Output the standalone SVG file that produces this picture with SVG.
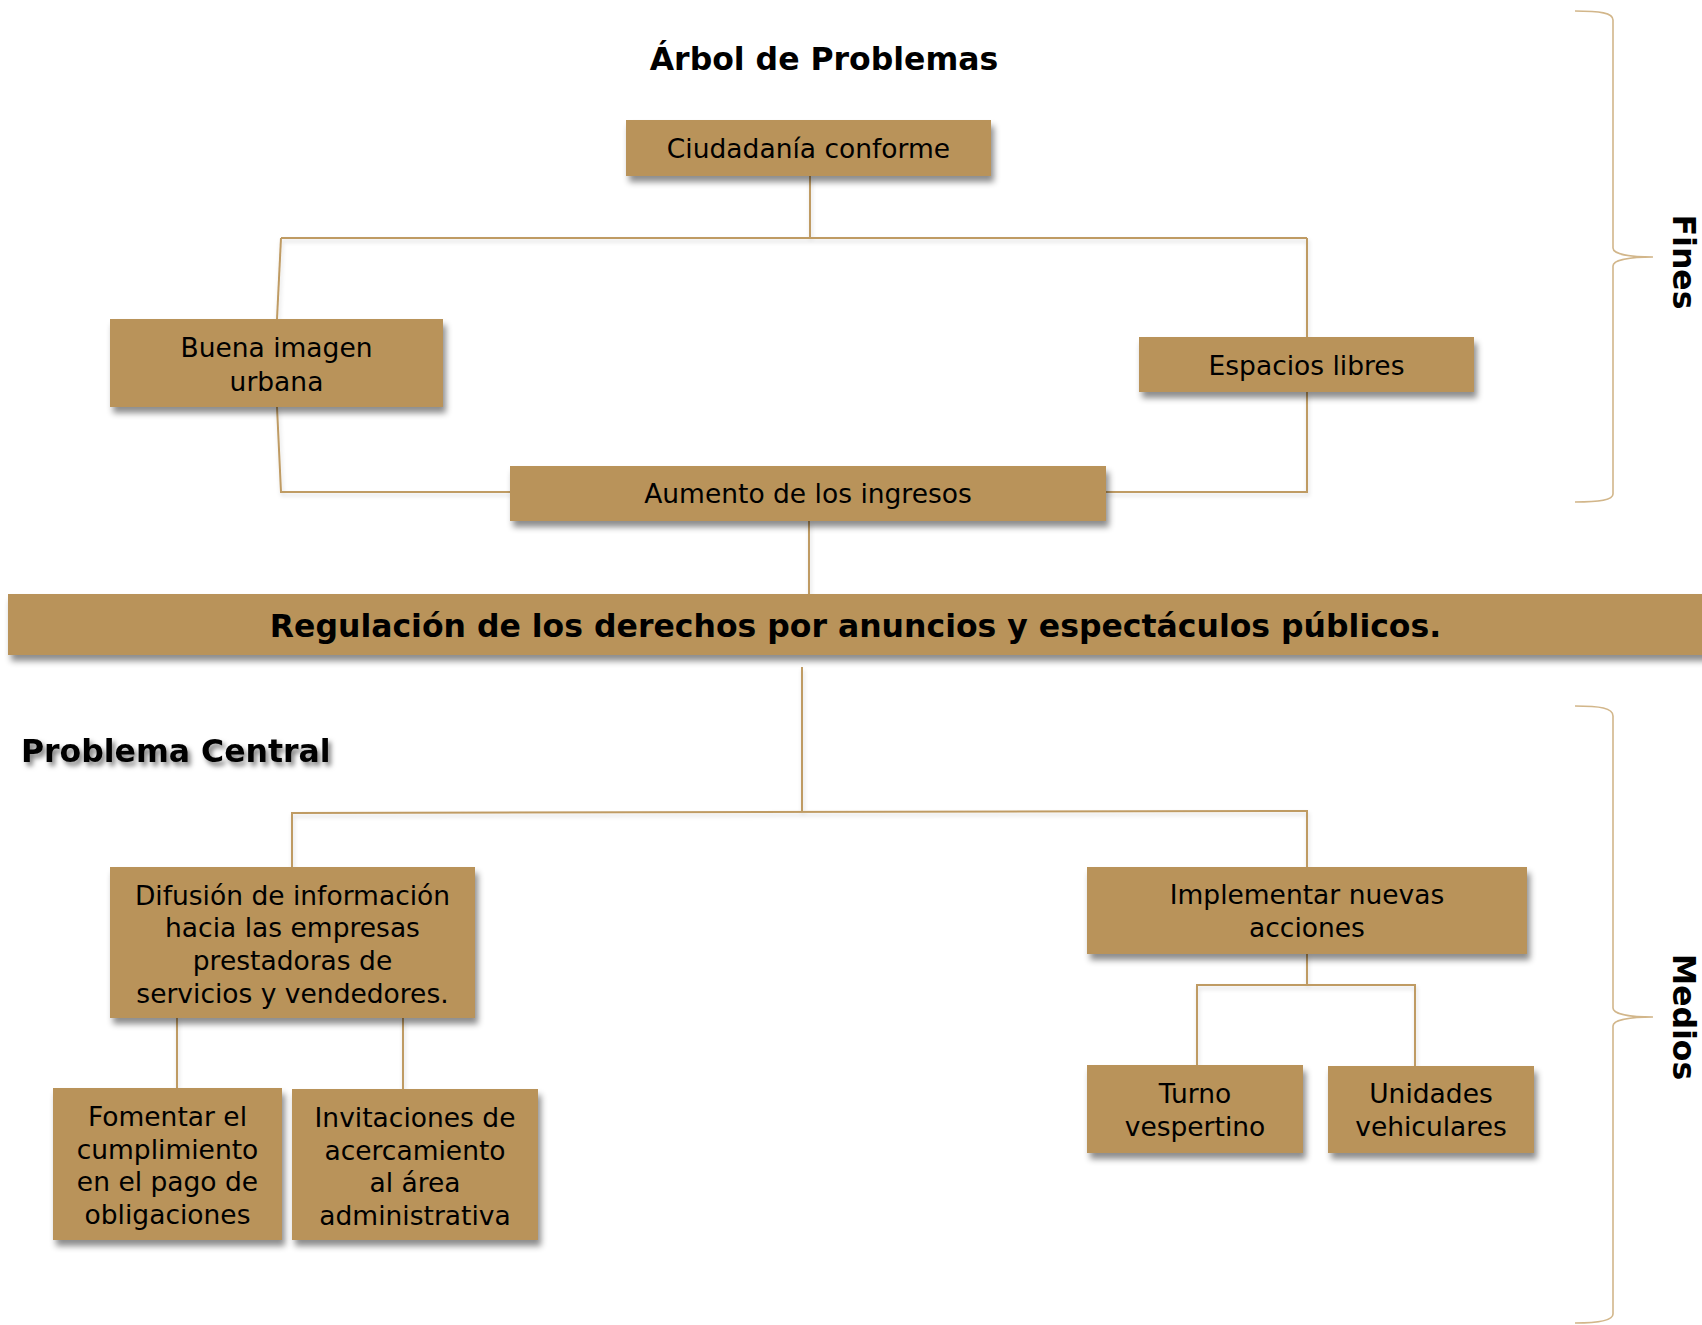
<svg xmlns="http://www.w3.org/2000/svg" width="1702" height="1325" viewBox="0 0 1702 1325">
<defs>
<filter id="sh" x="-10%" y="-30%" width="130%" height="180%">
<feDropShadow dx="3" dy="6" stdDeviation="3" flood-color="#000" flood-opacity="0.45"/>
</filter>
<filter id="tsh" x="-10%" y="-30%" width="130%" height="180%">
<feDropShadow dx="3" dy="4" stdDeviation="2.5" flood-color="#000" flood-opacity="0.5"/>
</filter>
<filter id="lsh" x="-10%" y="-10%" width="130%" height="130%">
<feDropShadow dx="1" dy="3" stdDeviation="2" flood-color="#000" flood-opacity="0.15"/>
</filter>
</defs>
<style>
.box{fill:#B9935A;filter:url(#sh);}
.t{font-family:"DejaVu Sans","Verdana",sans-serif;font-size:26.5px;fill:#000;text-anchor:middle;}
.b{font-family:"DejaVu Sans","Verdana",sans-serif;font-size:31.5px;font-weight:bold;fill:#000;}
.c{fill:none;stroke:#BF9B63;stroke-width:2;}
.br{fill:none;stroke:#D2B68A;stroke-width:1.6;}
</style>
<rect width="1702" height="1325" fill="#fff"/>

<g id="connectors" filter="url(#lsh)">
<path class="c" d="M810,176 L810,238"/>
<path class="c" d="M281,238 L1307,238"/>
<path class="c" d="M281,238 L277,319"/>
<path class="c" d="M277,407 L281,492 L510,492"/>
<path class="c" d="M1307,238 L1307,337"/>
<path class="c" d="M1307,392 L1307,492 L1106,492"/>
<path class="c" d="M809,521 L809,594"/>
<path class="c" d="M802,667 L802,812"/>
<path class="c" d="M292,867 L292,813 L1307,811 L1307,867"/>
<path class="c" d="M177,1018 L177,1088"/>
<path class="c" d="M403,1018 L403,1089"/>
<path class="c" d="M1307,954 L1307,985"/>
<path class="c" d="M1197,1065 L1197,985 L1415,985 L1415,1066"/>
</g>

<g id="braces">
<path class="br" d="M1575,11 C1600,11 1613,13 1613,20 L1613,248 C1613,254 1630,257 1653,257 C1630,257 1613,260 1613,266 L1613,494 C1613,500 1600,502 1575,502"/>
<path class="br" d="M1575,706 C1600,706 1613,708 1613,716 L1613,1008 C1613,1014 1630,1017 1653,1017 C1630,1017 1613,1020 1613,1026 L1613,1314 C1613,1320 1600,1323 1575,1323"/>
</g>

<g id="title"><text class="b" x="824" y="70" text-anchor="middle">Árbol de Problemas</text></g>

<g id="n-ciudadania">
<rect class="box" x="626" y="120" width="365" height="56"/>
<text class="t" x="808.5" y="158">Ciudadanía conforme</text>
</g>

<g id="n-buena">
<rect class="box" x="110" y="319" width="333" height="88"/>
<text class="t" x="276.5" y="357">Buena imagen</text>
<text class="t" x="276.5" y="391">urbana</text>
</g>

<g id="n-espacios">
<rect class="box" x="1139" y="337" width="335" height="55"/>
<text class="t" x="1306.5" y="375">Espacios libres</text>
</g>

<g id="n-aumento">
<rect class="box" x="510" y="466" width="596" height="55"/>
<text class="t" x="808" y="503">Aumento de los ingresos</text>
</g>

<g id="n-central">
<rect class="box" x="8" y="594" width="1700" height="61"/>
<text class="b" x="855.5" y="637" text-anchor="middle">Regulación de los derechos por anuncios y espectáculos públicos.</text>
</g>

<g id="lbl-central"><text class="b" x="21" y="762" filter="url(#tsh)">Problema Central</text></g>

<g id="n-difusion">
<rect class="box" x="110" y="867" width="365" height="151"/>
<text class="t" x="292.5" y="905">Difusión de información</text>
<text class="t" x="292.5" y="937">hacia las empresas</text>
<text class="t" x="292.5" y="970">prestadoras de</text>
<text class="t" x="292.5" y="1003">servicios y vendedores.</text>
</g>

<g id="n-fomentar">
<rect class="box" x="53" y="1088" width="229" height="152"/>
<text class="t" x="167.5" y="1126">Fomentar el</text>
<text class="t" x="167.5" y="1158.5">cumplimiento</text>
<text class="t" x="167.5" y="1191">en el pago de</text>
<text class="t" x="167.5" y="1223.5">obligaciones</text>
</g>

<g id="n-invitaciones">
<rect class="box" x="292" y="1089" width="246" height="151"/>
<text class="t" x="415" y="1127">Invitaciones de</text>
<text class="t" x="415" y="1159.5">acercamiento</text>
<text class="t" x="415" y="1192">al área</text>
<text class="t" x="415" y="1224.5">administrativa</text>
</g>

<g id="n-implementar">
<rect class="box" x="1087" y="867" width="440" height="87"/>
<text class="t" x="1307" y="904">Implementar nuevas</text>
<text class="t" x="1307" y="937">acciones</text>
</g>

<g id="n-turno">
<rect class="box" x="1087" y="1065" width="216" height="88"/>
<text class="t" x="1195" y="1103">Turno</text>
<text class="t" x="1195" y="1136">vespertino</text>
</g>

<g id="n-unidades">
<rect class="box" x="1328" y="1066" width="206" height="87"/>
<text class="t" x="1431" y="1103">Unidades</text>
<text class="t" x="1431" y="1136">vehiculares</text>
</g>

<g id="lbl-fines"><text class="b" transform="translate(1673,262) rotate(90)" x="0" y="0" text-anchor="middle">Fines</text></g>
<g id="lbl-medios"><text class="b" transform="translate(1673,1017) rotate(90)" x="0" y="0" text-anchor="middle">Medios</text></g>
</svg>
